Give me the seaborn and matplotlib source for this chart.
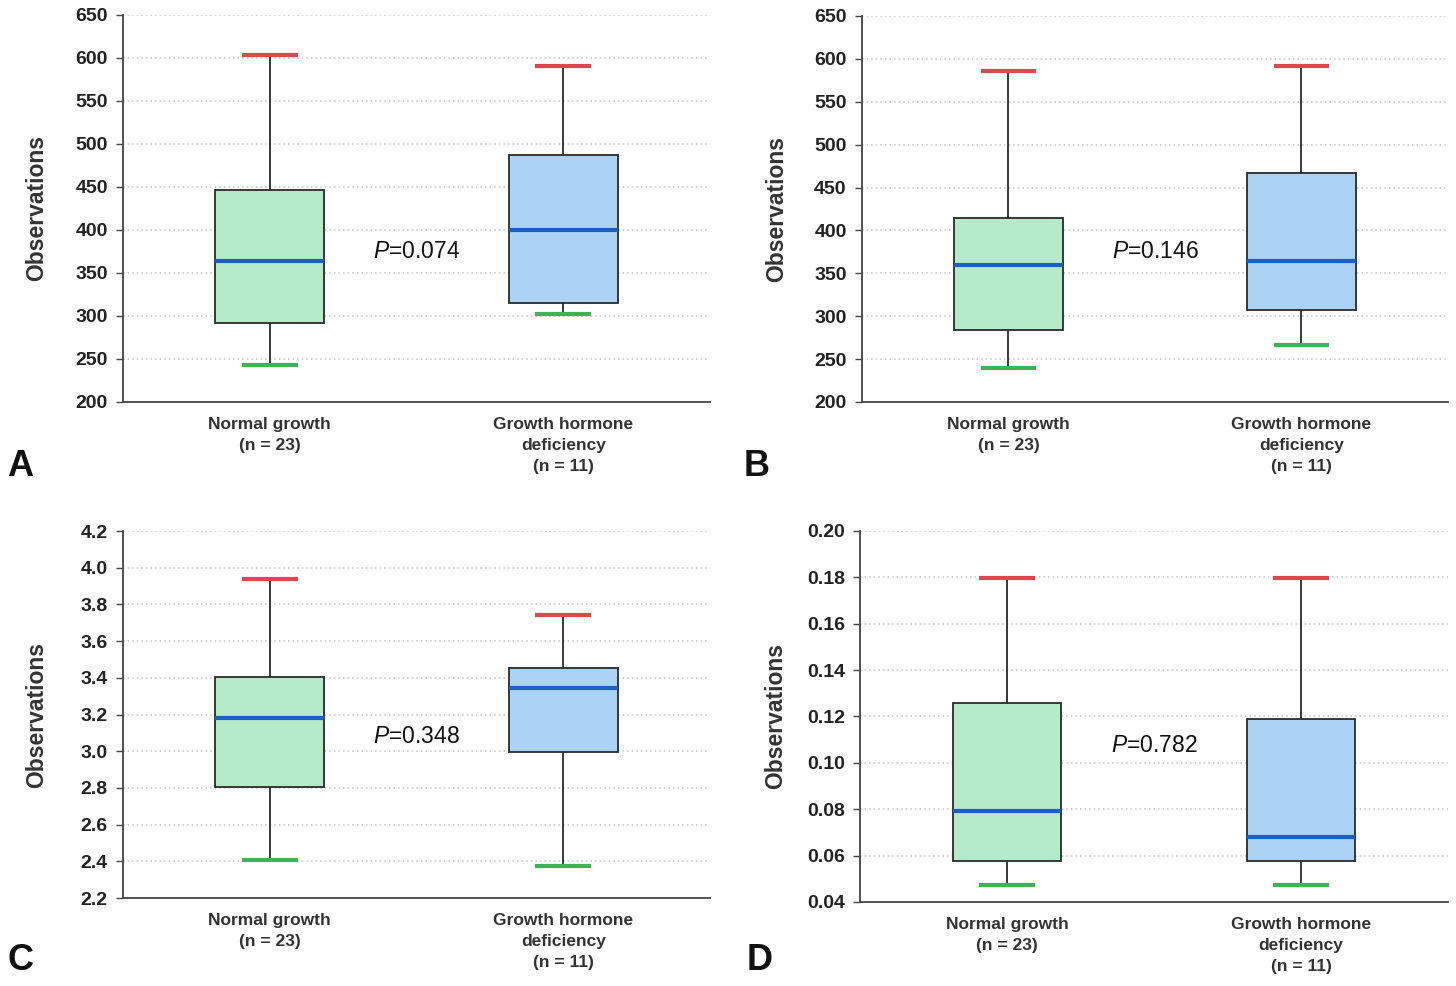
import numpy as np
import pandas as pd
import matplotlib
matplotlib.use("Agg")
import matplotlib.pyplot as plt
import seaborn as sns

# ---- data (five-number summaries: min, q1, median, q3, max) ----
groups = ["Normal growth\n(n = 23)", "Growth hormone\ndeficiency\n(n = 11)"]

a_normal = [243, 292, 364, 446, 603]
a_ghd = [302, 315, 400, 487, 591]

b_normal = [240, 284, 360, 415, 586]
b_ghd = [266, 307, 364, 467, 592]

c_normal = [2.41, 2.805, 3.18, 3.405, 3.94]
c_ghd = [2.375, 2.995, 3.345, 3.455, 3.74]

d_normal = [0.0473, 0.0577, 0.0793, 0.1258, 0.1797]
d_ghd = [0.0473, 0.0577, 0.0680, 0.1189, 0.1797]

p_values = ["0.074", "0.146", "0.348", "0.782"]
panel_letters = ["A", "B", "C", "D"]

a_ticks = [200, 250, 300, 350, 400, 450, 500, 550, 600, 650]
b_ticks = a_ticks
c_ticks = [2.2, 2.4, 2.6, 2.8, 3.0, 3.2, 3.4, 3.6, 3.8, 4.0, 4.2]
d_ticks = [0.04, 0.06, 0.08, 0.10, 0.12, 0.14, 0.16, 0.18, 0.20]

sns.set_theme(style="white")
plt.rcParams["font.family"] = ["Liberation Sans", "DejaVu Sans"]
plt.rcParams["mathtext.fontset"] = "custom"
plt.rcParams["mathtext.it"] = "Liberation Sans:italic"
plt.rcParams["mathtext.rm"] = "Liberation Sans"

fig = plt.figure(figsize=(14.56, 9.86), dpi=100)

axes_pos = [
    [0.0845, 0.5923, 0.4031, 0.3925],
    [0.5920, 0.5923, 0.4025, 0.3915],
    [0.0845, 0.0892, 0.4031, 0.3722],
    [0.5907, 0.0852, 0.4038, 0.3763],
]
datasets = [(a_normal, a_ghd), (b_normal, b_ghd), (c_normal, c_ghd), (d_normal, d_ghd)]
ticks_list = [a_ticks, b_ticks, c_ticks, d_ticks]
tick_fmt = ["{:.0f}", "{:.0f}", "{:.1f}", "{:.2f}"]
p_y = [0.39, 0.391, 0.439, 0.423]
ylabel_x = [-0.128, -0.126, -0.128, -0.124]
letter_pos = [(0.005, 0.509), (0.511, 0.509), (0.005, 0.008), (0.513, 0.008)]

palette = {groups[0]: "#b6ebca", groups[1]: "#abd3f6"}

for i, (pos, (g1, g2), ticks) in enumerate(zip(axes_pos, datasets, ticks_list)):
    ax = fig.add_axes(pos)
    df = pd.DataFrame({
        "group": [groups[0]] * len(g1) + [groups[1]] * len(g2),
        "value": list(g1) + list(g2),
    })
    sns.boxplot(
        data=df, x="group", y="value", hue="group", palette=palette,
        order=groups, hue_order=groups, legend=False, saturation=1,
        width=0.37, whis=(0, 100), linecolor="#2a2a2a", linewidth=1.3,
        showfliers=False,
        medianprops=dict(color="#1d5fc0", linewidth=3),
        capprops=dict(linewidth=0),
        ax=ax, zorder=3,
    )
    # coloured whisker caps at the extremes
    for xi, g in enumerate([g1, g2]):
        ax.hlines(max(g), xi - 0.095, xi + 0.095, color="#e0464e", linewidth=3, zorder=4)
        ax.hlines(min(g), xi - 0.095, xi + 0.095, color="#3db35a", linewidth=3, zorder=4)

    ax.set_xlim(-0.5, 1.5)
    ax.set_ylim(ticks[0], ticks[-1])
    ax.set_yticks(ticks)
    ax.set_yticklabels([tick_fmt[i].format(t) for t in ticks],
                       fontsize=14, fontweight="bold", color="#222222")
    ax.set_xticks([0, 1])
    ax.set_xticklabels(groups, fontsize=12.5, fontweight="bold", color="#333333",
                       linespacing=1.5)
    ax.tick_params(axis="y", length=5, width=1, color="#444444", pad=6, left=True)
    ax.tick_params(axis="x", length=0, pad=11)
    ax.set_xlabel("")
    ax.set_ylabel("Observations", fontsize=16.5, fontweight="bold", color="#333333")
    ax.yaxis.set_label_coords(ylabel_x[i], 0.5)
    for t in ticks[1:]:
        ax.axhline(t, color="#c4c4c4", linestyle=(0, (1, 2)), linewidth=1.1, zorder=1)
    sns.despine(ax=ax, top=True, right=True)
    ax.spines["left"].set_color("#444444")
    ax.spines["bottom"].set_color("#444444")
    ax.spines["left"].set_linewidth(1.3)
    ax.spines["bottom"].set_linewidth(1.3)
    ax.text(0.5, p_y[i], r"$\it{P}$=" + p_values[i], transform=ax.transAxes,
            ha="center", va="center", fontsize=16.5, color="#111111")
    fig.text(letter_pos[i][0], letter_pos[i][1], panel_letters[i], fontsize=26,
             fontweight="bold", color="#111111", ha="left", va="bottom")

fig.savefig("out.png", dpi=100, facecolor="white")
